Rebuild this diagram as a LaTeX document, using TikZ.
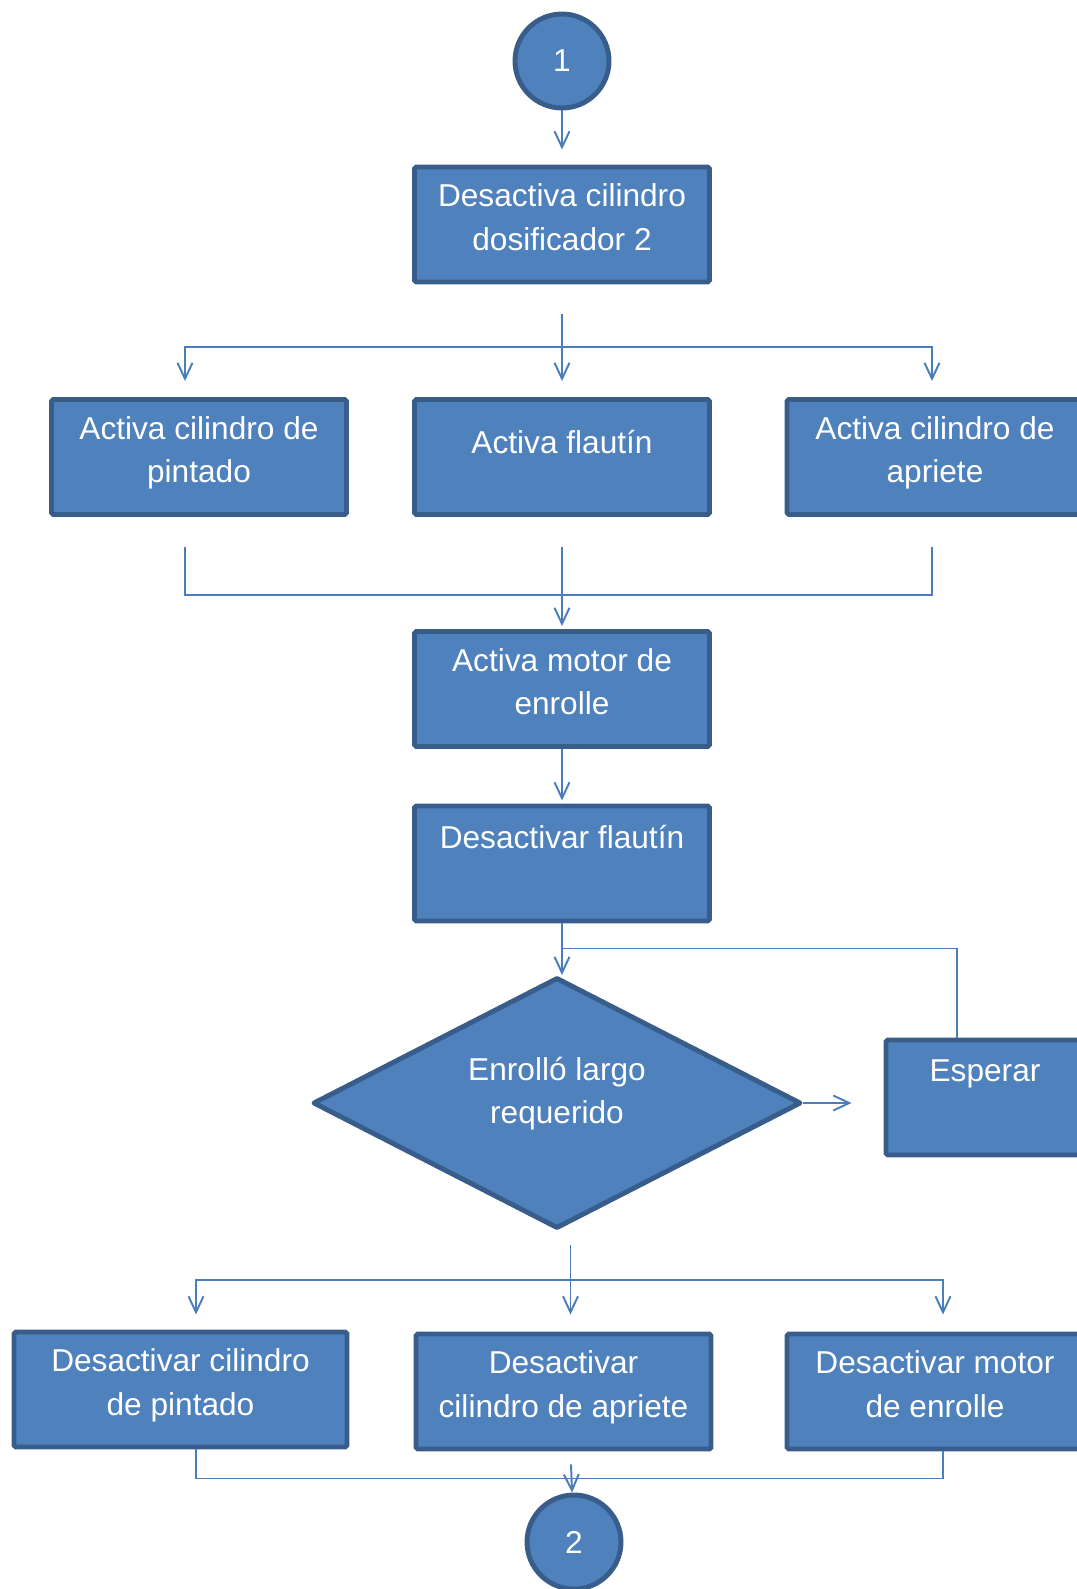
\documentclass[tikz,border=0pt]{standalone}
\usepackage{fontspec}
\setmainfont{Liberation Sans}
\usepackage{tikz}
\usetikzlibrary{arrows.meta,positioning,shapes.geometric}
\definecolor{fcfill}{RGB}{79,129,189}
\definecolor{fcedge}{RGB}{56,93,138}
\definecolor{fcwire}{RGB}{74,126,187}
\tikzset{
  fcbox/.style={draw=fcedge, line width=2.8pt, rounded corners=1pt, fill=fcfill, text=white, align=center, inner sep=0pt, text depth=.3cm, minimum width=5.9cm, minimum height=2.3cm},
  fccirc/.style={draw=fcedge, line width=2.8pt, circle, fill=fcfill, text=white, minimum size=1.88cm, inner sep=0pt},
  fcdec/.style={draw=fcedge, line width=2.8pt, line join=round, diamond, aspect=1.95, fill=fcfill, text=white, align=center, inner sep=0pt, minimum width=9.76cm, minimum height=5.02cm},
  fcln/.style={line width=1.1pt, draw=fcwire},
  fcarr/.style={-{Straight Barb[length=3.2mm,width=3mm]}, line width=1.1pt, draw=fcwire}
}

\begin{document}
\begin{tikzpicture}[x=0.2mm, y=-0.2mm, font=\fontsize{18}{24.8}\selectfont]
  \useasboundingbox (0,0) rectangle (1077,1589);
  \node[fccirc] (ini) at (562,61) {1};
  \node[fcbox] (dosif) at (562,224.5) {Desactiva cilindro\\dosificador 2};
  \node[fcbox] (pint) at (199,457) {Activa cilindro de\\pintado};
  \node[fcbox, text depth=.6cm] (flau) at (562,457) {Activa flautín};
  \node[fcbox, minimum width=5.92cm] (apri) at (935,457) {Activa cilindro de\\apriete};
  \node[fcbox] (motor) at (562,689) {Activa motor de\\enrolle};
  \node[fcbox, text depth=1.08cm] (dflau) at (562,863.5) {Desactivar flautín};
  \node[fcdec, text depth=.5cm] (dec) at (557,1103) {Enrolló largo\\requerido};
  \node[fcbox, minimum width=3.96cm, text depth=1.08cm] (esp) at (985,1097.5) {Esperar};
  \node[fcbox, minimum width=6.66cm] (dpin) at (180.5,1389.5) {Desactivar cilindro\\de pintado};
  \node[fcbox] (dapr) at (563.5,1391.5) {Desactivar\\cilindro de apriete};
  \node[fcbox, minimum width=5.92cm] (dmot) at (935,1391.5) {Desactivar motor\\de enrolle};
  \node[fccirc] (fin) at (574,1542) {2};

  \draw[fcarr, shorten >=.3cm] (ini) -- (dosif);
  % reparto hacia las tres activaciones
  \coordinate[above=1cm of flau.north] (sp1);
  \draw[fcarr, shorten <=.6cm, shorten >=.32cm] (dosif) -- (flau);
  \draw[fcarr, shorten >=.32cm] (sp1) -| ([xshift=-.28cm]pint.north);
  \draw[fcarr, shorten >=.32cm] (sp1) -| ([xshift=-.06cm]apri.north);
  \coordinate[below=1.56cm of flau.south] (mg1);
  \draw[fcln, shorten <=.6cm, shorten >=.6cm] ([xshift=-.28cm]pint.south) |- (mg1) -| ([xshift=-.06cm]apri.south);
  \draw[fcarr, shorten <=.6cm, shorten >=.06cm] (flau) -- (motor);
  \draw[fcarr, shorten >=.06cm] (motor) -- (dflau);
  % decision y espera
  \draw[fcarr] (dflau.south) -- (dflau.south |- dec.north);
  \coordinate[below=.5cm of dflau.south] (lp);
  \draw[fcln] ([xshift=-.56cm]esp.north) |- (lp);
  \draw[fcarr, shorten >=.64cm] (dec.east) -- (dec.east -| esp.west);
  % reparto hacia las desactivaciones
  \coordinate (sp2) at ([xshift=.14cm, yshift=1.04cm]dapr.north);
  \draw[fcarr, shorten <=.28cm, shorten >=.34cm] (dec.south -| sp2) -- (dapr.north -| sp2);
  \draw[fcarr, shorten >=.3cm] (sp2) -| ([xshift=.31cm]dpin.north);
  \draw[fcarr, shorten >=.34cm] (sp2) -| ([xshift=.16cm]dmot.north);
  \coordinate (mg2) at ([xshift=.14cm, yshift=-.54cm]dapr.south);
  \draw[fcln] ([xshift=.31cm]dpin.south) |- (mg2) -| ([xshift=.16cm]dmot.south);
  \draw[fcarr, shorten <=.26cm] (dapr.south -| mg2) -- (fin);
\end{tikzpicture}
\end{document}
